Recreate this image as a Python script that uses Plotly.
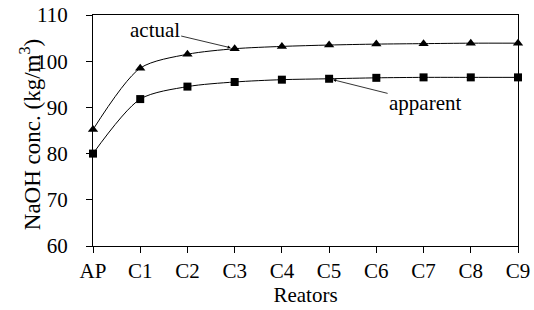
import plotly.graph_objects as go

categories = ["AP", "C1", "C2", "C3", "C4", "C5", "C6", "C7", "C8", "C9"]
actual = [85.2, 98.5, 101.5, 102.7, 103.2, 103.5, 103.7, 103.8, 103.9, 103.9]
apparent = [80.0, 91.8, 94.5, 95.5, 96.0, 96.2, 96.4, 96.5, 96.5, 96.5]
y_ticks = [60, 70, 80, 90, 100, 110]

xs = list(range(len(categories)))
font_family = "Liberation Serif, Times New Roman, serif"

fig = go.Figure()
fig.add_trace(go.Scatter(
    x=xs, y=actual, mode="lines+markers", name="actual",
    line=dict(color="black", width=1, shape="spline", smoothing=0.8),
    marker=dict(symbol="triangle-up", size=9, color="black"),
    cliponaxis=False,
))
fig.add_trace(go.Scatter(
    x=xs, y=apparent, mode="lines+markers", name="apparent",
    line=dict(color="black", width=1, shape="spline", smoothing=0.8),
    marker=dict(symbol="square", size=8, color="black"),
    cliponaxis=False,
))

fig.add_annotation(x=3, y=actual[3], ax=-80, ay=-19, text="actual",
                   showarrow=True, arrowhead=2, arrowsize=0.8, arrowwidth=0.8,
                   arrowcolor="black", standoff=4,
                   font=dict(family=font_family, size=21, color="black"))
fig.add_annotation(x=5, y=apparent[5], ax=96, ay=24, text="apparent",
                   showarrow=True, arrowhead=2, arrowsize=0.8, arrowwidth=0.8,
                   arrowcolor="black", standoff=4,
                   font=dict(family=font_family, size=21, color="black"))
# y-axis title placed as a rotated annotation for exact positioning
fig.add_annotation(xref="paper", yref="paper", x=-0.148, y=0.48,
                   text="NaOH conc. (kg/m<sup>3</sup>)", textangle=-90,
                   showarrow=False, xanchor="center", yanchor="middle",
                   font=dict(family=font_family, size=23, color="black"))

fig.update_layout(
    width=534, height=310,
    margin=dict(l=93, r=16, t=15, b=64, autoexpand=False),
    paper_bgcolor="white", plot_bgcolor="white",
    showlegend=False,
    font=dict(family=font_family, size=21, color="black"),
)
fig.update_xaxes(
    range=[0, 9], tickvals=xs, ticktext=categories,
    showgrid=False, zeroline=False, automargin=False,
    showline=True, linecolor="black", linewidth=1, mirror=True,
    ticks="outside", ticklen=6, tickcolor="black",
    ticklabeloverflow="allow",
    title=dict(text="Reators", standoff=2, font=dict(size=21)),
    tickfont=dict(size=21),
)
fig.update_yaxes(
    range=[60, 110], tickvals=y_ticks,
    showgrid=False, zeroline=False, automargin=False,
    showline=True, linecolor="black", linewidth=1, mirror=True,
    ticks="outside", ticklen=6, tickcolor="black",
    ticklabelstandoff=14, ticklabeloverflow="allow",
    tickfont=dict(size=21),
)

# remove the browser's default 8px body margin so the figure fills the window
fig.write_html(
    "out.html",
    config={"displayModeBar": False},
    post_script="document.body.style.margin='0';document.body.style.overflow='hidden';",
)
